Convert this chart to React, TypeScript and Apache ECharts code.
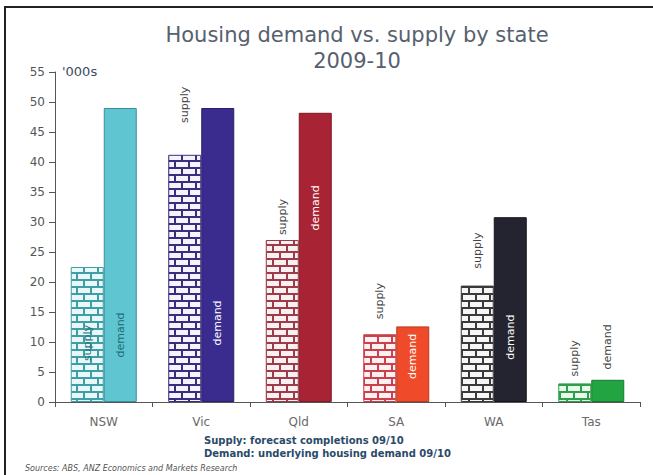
import React, { useEffect, useRef } from 'react';
import * as echarts from 'echarts';

const states = ['NSW', 'Vic', 'Qld', 'SA', 'WA', 'Tas'];
const supply = [22.5, 41.2, 27, 11.3, 19.4, 3.1];
const demand = [49, 49, 48.2, 12.6, 30.8, 3.7];

const titleLines = ['Housing demand vs. supply by state', '2009-10'];
const unitLabel = "'000s";
const noteLines = ['Supply: forecast completions 09/10', 'Demand: underlying housing demand 09/10'];
const sourceText = 'Sources: ABS, ANZ Economics and Markets Research';

// styles
const supplyMortar = ['#3f9ea6', '#3b2d7e', '#9c3c48', '#c8414c', '#3a3a3a', '#2f9e48'];
const supplyBrick = ['#e8f8f9', '#f4f2fb', '#fbf0f1', '#fdf0f0', '#f6f6f6', '#e9f8ec'];
const demandFill = ['#5ec5d1', '#3a2b8f', '#a82333', '#ef4b2b', '#23242f', '#22a443'];
const demandBorder = ['#3c8f9a', '#2a1f6a', '#7a1a25', '#b53a20', '#15151c', '#177a30'];
// label centre offset from the bar top, px
const supplyLabelOffset = [76, -50, -23, -33, -35, -25];
const demandLabelOffset = [227, 215, 95, 30, 120, -33];
const supplyLabelColor = ['#23707a', '#444', '#444', '#444', '#444', '#444'];
const demandLabelColor = ['#1b6d78', '#fff', '#fff', '#fff', '#fff', '#444'];

function brickTile(mortar: string, brick: string) {
  const c = document.createElement('canvas');
  c.width = 28;
  c.height = 14;
  const ctx = c.getContext('2d')!;
  ctx.fillStyle = mortar;
  ctx.fillRect(0, 0, 28, 14);
  ctx.fillStyle = brick;
  ctx.fillRect(1, 1, 12, 5);
  ctx.fillRect(15, 1, 12, 5);
  ctx.fillRect(0, 8, 6, 5);
  ctx.fillRect(8, 8, 12, 5);
  ctx.fillRect(22, 8, 6, 5);
  return c.toDataURL();
}

export default function App() {
  const ref = useRef<HTMLDivElement>(null);
  useEffect(() => {
    if (!ref.current) return;
    const chart = echarts.init(ref.current, undefined, { renderer: 'svg' });
    const labelBase = {
      show: true,
      rotate: 90,
      align: 'center',
      verticalAlign: 'middle',
      fontFamily: 'DejaVu Sans',
      fontSize: 11,
    };
    const supplyData = supply.map((v, i) => ({
      value: v,
      itemStyle: {
        color: { image: brickTile(supplyMortar[i], supplyBrick[i]), repeat: 'repeat', imageWidth: 28, imageHeight: 14 },
        borderColor: supplyMortar[i],
        borderWidth: 1,
      },
      label: { ...labelBase, formatter: 'supply', position: ['50%', supplyLabelOffset[i]], color: supplyLabelColor[i] },
    }));
    const demandData = demand.map((v, i) => ({
      value: v,
      itemStyle: { color: demandFill[i], borderColor: demandBorder[i], borderWidth: 1 },
      label: { ...labelBase, formatter: 'demand', position: ['50%', demandLabelOffset[i]], color: demandLabelColor[i] },
    }));
    chart.setOption({
      animation: false,
      backgroundColor: '#ffffff',
      title: {
        text: titleLines.join('\n'),
        left: 352,
        top: 17,
        textAlign: 'center',
        textStyle: { fontFamily: 'DejaVu Sans', fontSize: 21, fontWeight: 'normal', color: '#56616e', lineHeight: 26 },
      },
      grid: { left: 55, right: 13, top: 72, bottom: 73 },
      xAxis: {
        type: 'category',
        data: states,
        axisLine: { lineStyle: { color: '#555', width: 1 } },
        axisTick: { show: true, length: 5, lineStyle: { color: '#555' } },
        axisLabel: { color: '#6a6a6a', fontFamily: 'DejaVu Sans', fontSize: 12, margin: 14 },
      },
      yAxis: {
        type: 'value',
        min: 0,
        max: 55,
        interval: 5,
        splitLine: { show: false },
        axisLine: { show: true, lineStyle: { color: '#555', width: 1 } },
        axisTick: { show: true, length: 6, lineStyle: { color: '#555' } },
        axisLabel: { color: '#555', fontFamily: 'DejaVu Sans', fontSize: 12, margin: 10 },
      },
      series: [
        { name: 'supply', type: 'bar', barWidth: 33, barGap: '0%', data: supplyData },
        { name: 'demand', type: 'bar', barWidth: 33, barGap: '0%', data: demandData },
      ],
      graphic: [
        {
          type: 'rect',
          shape: { x: 5, y: 7, width: 700, height: 520 },
          style: { fill: 'none', stroke: '#222', lineWidth: 2 },
          silent: true,
        },
        {
          type: 'text',
          x: 62,
          y: 71,
          style: { text: unitLabel, fontFamily: 'DejaVu Sans', fontSize: 13, fill: '#3d4b5e', verticalAlign: 'middle' },
        },
        {
          type: 'text',
          x: 204,
          y: 440,
          style: { text: noteLines[0], fontFamily: 'DejaVu Sans', fontSize: 10, fontWeight: 'bold', fill: '#2b4a68', verticalAlign: 'middle' },
        },
        {
          type: 'text',
          x: 204,
          y: 453,
          style: { text: noteLines[1], fontFamily: 'DejaVu Sans', fontSize: 10, fontWeight: 'bold', fill: '#2b4a68', verticalAlign: 'middle' },
        },
        {
          type: 'text',
          x: 25,
          y: 468,
          style: { text: sourceText, fontFamily: 'DejaVu Sans', fontSize: 8, fontStyle: 'italic', fill: '#555', verticalAlign: 'middle' },
        },
      ],
    });
    return () => chart.dispose();
  }, []);
  return <div ref={ref} style={{ position: 'fixed', left: 0, top: 0, width: 653, height: 475 }} />;
}
